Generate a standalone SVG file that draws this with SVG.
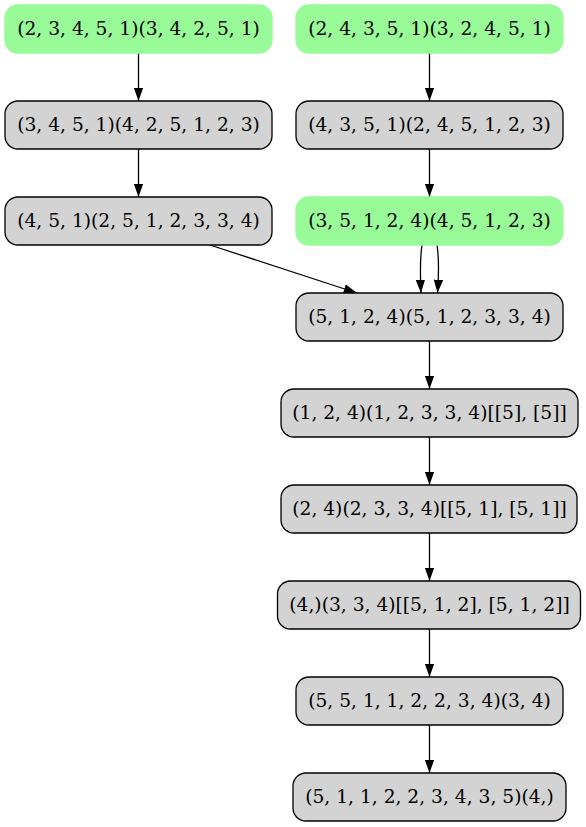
<svg xmlns="http://www.w3.org/2000/svg" width="586" height="827" viewBox="0 0 586 827">
<defs>
<marker id="ah" markerWidth="13.3" markerHeight="9.4" refX="13.3" refY="4.7" orient="auto" markerUnits="userSpaceOnUse">
<path d="M0,0 L13.3,4.7 L0,9.4 Z" fill="#000"/>
</marker>
<style>
.g rect{fill:#d3d3d3;stroke:#000;stroke-width:1.3}
.p rect{fill:#98fb98;stroke:#98fb98;stroke-width:1.3}
text{font-family:"DejaVu Serif",serif;font-size:18.67px;text-anchor:middle;fill:#000}
#edges path{fill:none;stroke:#000;stroke-width:1.3;marker-end:url(#ah)}
</style>
</defs>
<rect width="586" height="827" fill="#fff"/>
<g id="edges">
<path d="M138.5,53 L138.5,101"/>
<path d="M138.5,149 L138.5,197"/>
<path d="M429.5,53 L429.5,101"/>
<path d="M429.5,149 L429.5,197"/>
<path d="M422,245 C420,258 420,272 421,293"/>
<path d="M437,245 C439,258 439,272 437.5,293"/>
<path d="M210,245 L357,293"/>
<path d="M429.5,341 L429.5,389"/>
<path d="M429.5,437 L429.5,485"/>
<path d="M429.5,533 L429.5,581"/>
<path d="M429.5,629 L429.5,677"/>
<path d="M429.5,725 L429.5,773"/>
</g>
<g id="nA" class="p"><rect x="5" y="5" width="267" height="48" rx="13"/><text x="138.5" y="35">(2, 3, 4, 5, 1)(3, 4, 2, 5, 1)</text></g>
<g id="nB" class="p"><rect x="296" y="5" width="267" height="48" rx="13"/><text x="429.5" y="35">(2, 4, 3, 5, 1)(3, 2, 4, 5, 1)</text></g>
<g id="nC" class="g"><rect x="5" y="101" width="267" height="48" rx="13"/><text x="138.5" y="131">(3, 4, 5, 1)(4, 2, 5, 1, 2, 3)</text></g>
<g id="nD" class="g"><rect x="296" y="101" width="267" height="48" rx="13"/><text x="429.5" y="131">(4, 3, 5, 1)(2, 4, 5, 1, 2, 3)</text></g>
<g id="nE" class="g"><rect x="5" y="197" width="267" height="48" rx="13"/><text x="138.5" y="227">(4, 5, 1)(2, 5, 1, 2, 3, 3, 4)</text></g>
<g id="nF" class="p"><rect x="296" y="197" width="267" height="48" rx="13"/><text x="429.5" y="227">(3, 5, 1, 2, 4)(4, 5, 1, 2, 3)</text></g>
<g id="nG" class="g"><rect x="296" y="293" width="267" height="48" rx="13"/><text x="429.5" y="323">(5, 1, 2, 4)(5, 1, 2, 3, 3, 4)</text></g>
<g id="nH" class="g"><rect x="281" y="389" width="297" height="48" rx="13"/><text x="429.5" y="419">(1, 2, 4)(1, 2, 3, 3, 4)[[5], [5]]</text></g>
<g id="nI" class="g"><rect x="281" y="485" width="296" height="48" rx="13"/><text x="429.5" y="515">(2, 4)(2, 3, 3, 4)[[5, 1], [5, 1]]</text></g>
<g id="nJ" class="g"><rect x="277.5" y="581" width="303" height="48" rx="13"/><text x="429.5" y="611">(4,)(3, 3, 4)[[5, 1, 2], [5, 1, 2]]</text></g>
<g id="nK" class="g"><rect x="296" y="677" width="267" height="48" rx="13"/><text x="429.5" y="707">(5, 5, 1, 1, 2, 2, 3, 4)(3, 4)</text></g>
<g id="nL" class="g"><rect x="293" y="773" width="273" height="48" rx="13"/><text x="429.5" y="803">(5, 1, 1, 2, 2, 3, 4, 3, 5)(4,)</text></g>
</svg>
